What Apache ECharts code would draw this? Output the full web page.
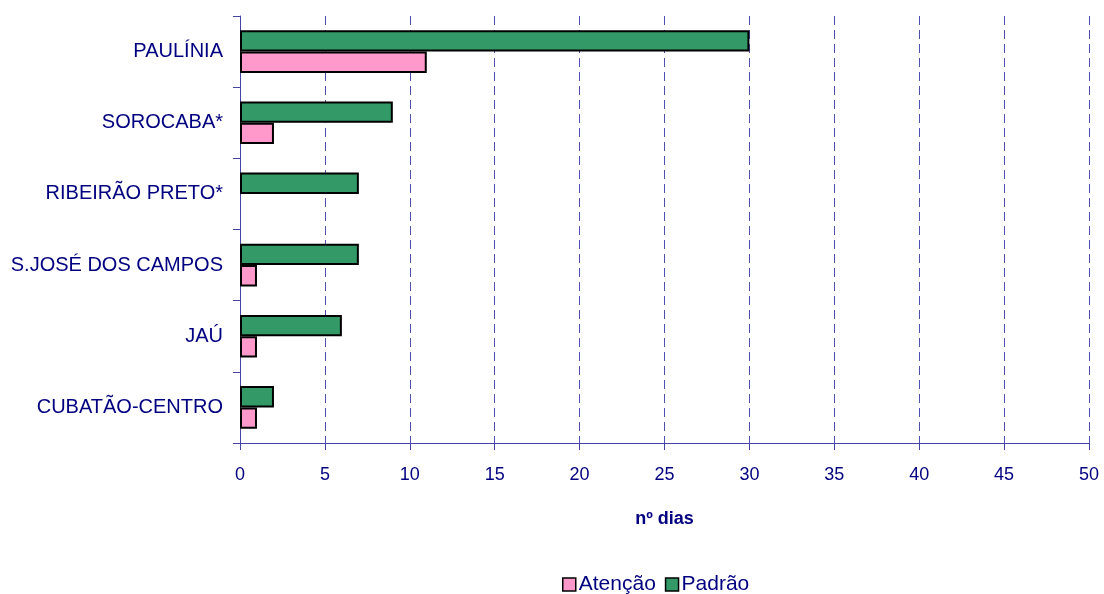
<!DOCTYPE html>
<html>
<head>
<meta charset="utf-8">
<script src="https://cdn.jsdelivr.net/npm/echarts@6/dist/echarts.min.js"></script>
<style>
  html, body { margin: 0; padding: 0; background: #fff; }
  #chart { width: 1104px; height: 594px; }
</style>
</head>
<body>
<div id="chart"></div>
<script>
// Stations, listed bottom to top along the category axis
const stations = ['CUBATÃO-CENTRO', 'JAÚ', 'S.JOSÉ DOS CAMPOS', 'RIBEIRÃO PRETO*', 'SOROCABA*', 'PAULÍNIA'];
// Number of days per station
const atencao = [1, 1, 1, null, 2, 11];
const padrao = [2, 6, 7, 7, 9, 30];
const xTicks = { min: 0, max: 50, interval: 5 };

const navy = '#000080';
const axisBlue = '#4444a8';
const chart = echarts.init(document.getElementById('chart'));
chart.setOption({
  animation: false,
  textStyle: { fontFamily: 'Liberation Sans, Arial, sans-serif', color: navy },
  grid: { left: 240, right: 15, top: 16, bottom: 151 },
  legend: {
    left: 557, top: 569,
    icon: 'rect',
    itemWidth: 13, itemHeight: 13, itemGap: 9,
    itemStyle: { borderColor: '#000', borderWidth: 1.5 },
    textStyle: { color: navy, fontSize: 21, padding: [0, 0, 0, -2] },
    data: ['Atenção', 'Padrão']
  },
  xAxis: {
    type: 'value',
    min: xTicks.min, max: xTicks.max, interval: xTicks.interval,
    name: 'nº dias', nameLocation: 'middle', nameGap: 67,
    nameTextStyle: { color: navy, fontSize: 18, fontWeight: 'bold' },
    axisLine: { show: true, lineStyle: { color: axisBlue, width: 1 } },
    axisTick: { show: true, length: 7, lineStyle: { color: axisBlue } },
    axisLabel: { color: navy, fontSize: 18, margin: 23 },
    splitLine: { show: true, lineStyle: { color: '#5050b0', type: [9, 5], width: 1 } }
  },
  yAxis: {
    type: 'category',
    data: stations,
    axisLine: { show: true, lineStyle: { color: axisBlue, width: 1 } },
    axisTick: { show: true, length: 7, alignWithLabel: false, lineStyle: { color: axisBlue } },
    axisLabel: { color: navy, fontSize: 20, margin: 17 },
    splitLine: { show: false }
  },
  // Padrão drawn first so it sits above Atenção within each band
  series: [
    {
      name: 'Padrão', type: 'bar', data: padrao,
      barGap: '0%', barCategoryGap: '40%',
      itemStyle: { color: '#339966', borderColor: '#000', borderWidth: 2 }
    },
    {
      name: 'Atenção', type: 'bar', data: atencao,
      barGap: '0%', barCategoryGap: '40%',
      itemStyle: { color: '#FF99CC', borderColor: '#000', borderWidth: 2 }
    }
  ]
});
</script>
</body>
</html>
